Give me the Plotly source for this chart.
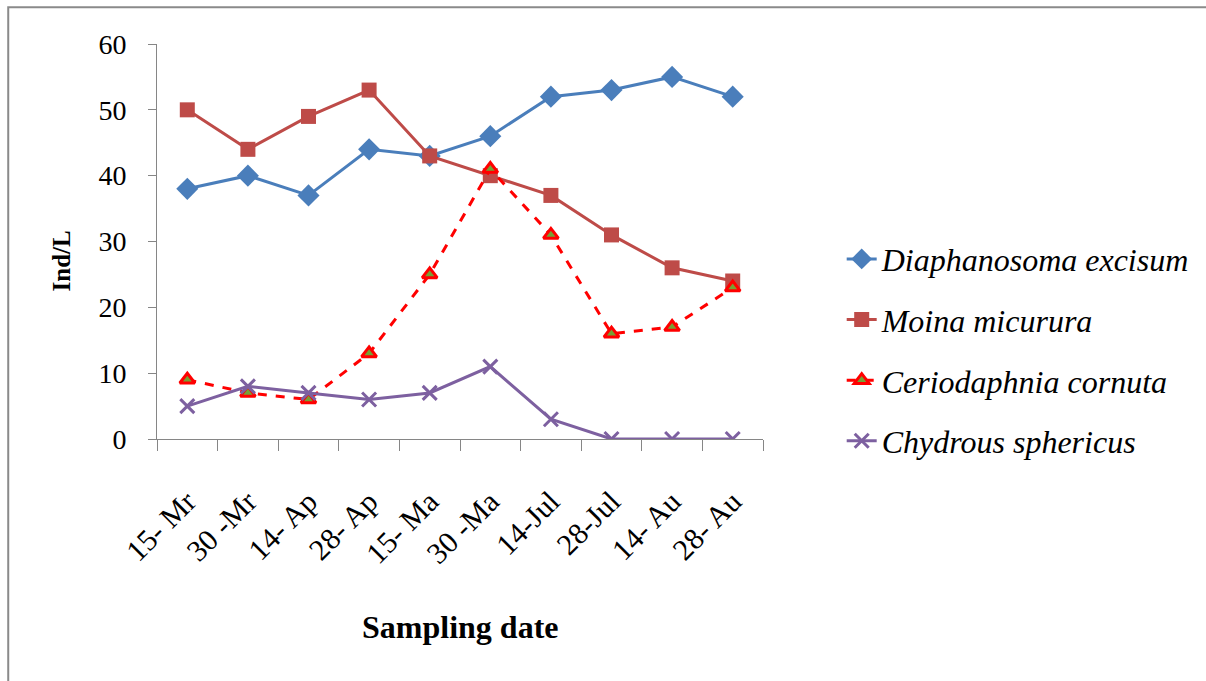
import plotly.graph_objects as go

# Sampling dates (category labels) and densities (Ind/L) per cladoceran species
dates = ["15- Mr", "30 -Mr", "14- Ap", "28- Ap", "15- Ma", "30 -Ma",
         "14-Jul", "28-Jul", "14- Au", "28- Au"]
diaphanosoma = [38, 40, 37, 44, 43, 46, 52, 53, 55, 52]
moina = [50, 44, 49, 53, 43, 40, 37, 31, 26, 24]
ceriodaphnia = [9, 7, 6, 13, 25, 41, 31, 16, 17, 23]
chydrous = [5, 8, 7, 6, 7, 11, 3, 0, 0, 0]

SERIF = "Times New Roman"
AXIS_GREY = "#868686"

fig = go.Figure()

fig.add_trace(go.Scatter(
    x=dates, y=diaphanosoma, name="<i>Diaphanosoma excisum</i>", legendgroup="a",
    mode="lines+markers",
    line=dict(color="#4A7EBB", width=3),
    marker=dict(symbol="diamond", size=17, color="#4A7EBB"),
))
fig.add_trace(go.Scatter(
    x=dates, y=moina, name="<i>Moina micurura</i>", legendgroup="b",
    mode="lines+markers",
    line=dict(color="#BE4B48", width=3),
    marker=dict(symbol="square", size=15, color="#BE4B48"),
))
fig.add_trace(go.Scatter(
    x=dates, y=ceriodaphnia, name="<i>Ceriodaphnia cornuta</i>", legendgroup="c",
    mode="lines+markers",
    line=dict(color="#FF0000", width=3, dash="dash"),
    marker=dict(symbol="triangle-up", size=13, color="#77A033",
                line=dict(color="#FF0000", width=3)),
))
fig.add_trace(go.Scatter(
    x=dates, y=chydrous, name="<i>Chydrous sphericus</i>", legendgroup="d",
    mode="lines+markers",
    line=dict(color="#7D60A0", width=3),
    marker=dict(symbol="x-thin", size=14,
                line=dict(color="#7D60A0", width=3)),
))

fig.update_layout(
    width=1206, height=681,
    margin=dict(l=157, r=442, t=44, b=242),
    paper_bgcolor="white", plot_bgcolor="white",
    font=dict(family=SERIF, color="black", size=32),
    showlegend=True,
    legend=dict(
        x=1.128, xanchor="left", y=0.525, yanchor="top",
        font=dict(family=SERIF, size=32),
        tracegroupgap=16, bgcolor="rgba(0,0,0,0)",
    ),
    xaxis=dict(
        type="category", range=[-0.5, 9.5],
        showline=True, linecolor=AXIS_GREY, linewidth=1,
        ticks="outside", tickson="boundaries", ticklen=11,
        tickcolor=AXIS_GREY, tickwidth=1,
        tickangle=-45, ticklabelstandoff=32,
        tickfont=dict(family=SERIF, size=30),
        showgrid=False, zeroline=False,
    ),
    yaxis=dict(
        range=[0, 60], tickvals=[0, 10, 20, 30, 40, 50, 60],
        showline=True, linecolor=AXIS_GREY, linewidth=1,
        ticks="outside", ticklen=8, tickcolor=AXIS_GREY, tickwidth=1,
        ticklabelstandoff=16,
        tickfont=dict(family=SERIF, size=28),
        showgrid=False, zeroline=False,
    ),
    annotations=[
        dict(text="<b>Sampling date</b>", xref="paper", yref="paper",
             x=0.5, y=-0.475, xanchor="center", yanchor="middle",
             showarrow=False, font=dict(family=SERIF, size=32)),
        dict(text="<b>Ind/L</b>", xref="paper", yref="paper",
             x=-0.158, y=0.45, xanchor="center", yanchor="middle",
             textangle=-90, showarrow=False, font=dict(family=SERIF, size=25)),
    ],
    shapes=[
        # outer frame around the chart area
        dict(type="rect", xref="paper", yref="paper",
             x0=-0.2455, x1=1.77, y0=-0.64, y1=1.093,
             line=dict(color="#8A8A8A", width=2), fillcolor="rgba(0,0,0,0)"),
    ],
)

fig.write_html("out.html")
